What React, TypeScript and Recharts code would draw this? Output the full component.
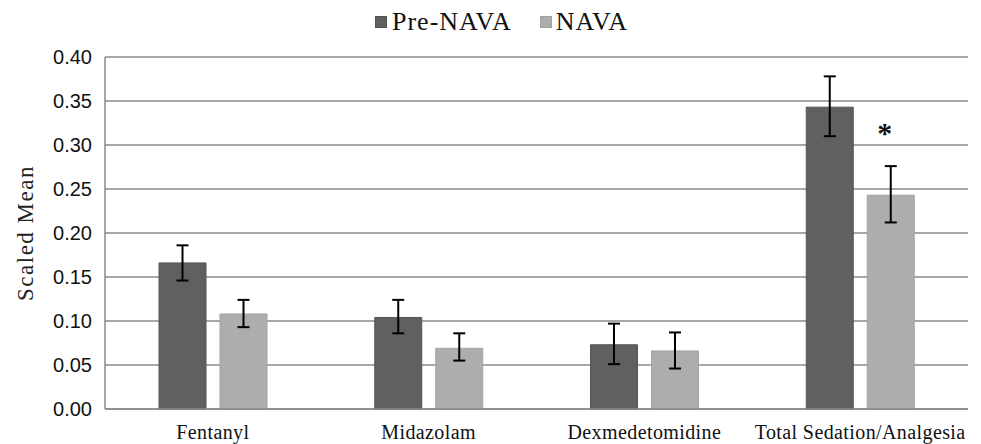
import React from 'react';
import { BarChart, Bar, XAxis, YAxis, CartesianGrid, ErrorBar, Legend, LabelList, Label } from 'recharts';

const categories = ['Fentanyl', 'Midazolam', 'Dexmedetomidine', 'Total Sedation/Analgesia'];
const preNava = [0.166, 0.104, 0.073, 0.343];
const preNavaLow = [0.146, 0.086, 0.051, 0.310];
const preNavaHigh = [0.186, 0.124, 0.097, 0.378];
const nava = [0.108, 0.069, 0.066, 0.243];
const navaLow = [0.093, 0.055, 0.046, 0.212];
const navaHigh = [0.124, 0.086, 0.087, 0.276];
const significance = ['', '', '', '*'];
const yTicks = [0, 0.05, 0.1, 0.15, 0.2, 0.25, 0.3, 0.35, 0.4];
const seriesNames = ['Pre-NAVA', 'NAVA'];

const DARK = '#606060';
const LIGHT = '#adadad';
const SERIF = '"Liberation Serif", "Times New Roman", serif';
const SANS = '"Liberation Sans", Arial, sans-serif';

const data = categories.map((name, i) => ({
  name,
  pre: preNava[i],
  preErr: [preNava[i] - preNavaLow[i], preNavaHigh[i] - preNava[i]],
  nava: nava[i],
  navaErr: [nava[i] - navaLow[i], navaHigh[i] - nava[i]],
  sig: significance[i],
}));

const LegendContent = () => (
  <div style={{ display: 'flex', alignItems: 'center', fontFamily: SERIF, fontSize: 26, lineHeight: '26px', letterSpacing: 1, color: '#111', whiteSpace: 'nowrap' }}>
    <span style={{ width: 12, height: 12, background: DARK, border: '1px solid #505050', marginRight: 5, boxSizing: 'border-box', display: 'inline-block' }} />
    <span style={{ marginRight: 28 }}>{seriesNames[0]}</span>
    <span style={{ width: 12, height: 12, background: LIGHT, border: '1px solid #a0a0a0', marginRight: 4, boxSizing: 'border-box', display: 'inline-block' }} />
    <span>{seriesNames[1]}</span>
  </div>
);

const renderSig = (props: any) => {
  const { x, y, width, value } = props;
  if (!value) return null;
  return (
    <text x={Number(x) + Number(width) / 2 - 6} y={Number(y) - 52} textAnchor="middle" fontSize={30} fontWeight="bold" fontFamily={SERIF} fill="#111">
      {value}
    </text>
  );
};

const YLabel = () => (
  <text x={25} y={233} transform="rotate(-90 25 233)" textAnchor="middle" dominantBaseline="central" fontFamily={SERIF} fontSize={23} letterSpacing={1.5} fill="#222">
    Scaled Mean
  </text>
);

export default function App() {
  return (
    <div style={{ position: 'absolute', left: 0, top: 0, width: 981, height: 444, background: '#fff' }}>
      <BarChart width={981} height={444} data={data} margin={{ top: 57, right: 13, bottom: 0, left: 0 }} barSize={47} barGap={14}>
        <CartesianGrid vertical={false} stroke="#8a8a8a" strokeWidth={1.5} />
        <XAxis
          dataKey="name"
          height={35}
          tickLine={false}
          axisLine={{ stroke: '#8a8a8a', strokeWidth: 1.5 }}
          tickMargin={10}
          interval={0}
          tick={{ fontFamily: SERIF, fontSize: 20, fill: '#111', letterSpacing: 0.4 }}
        />
        <YAxis
          width={105}
          domain={[0, 0.4]}
          ticks={yTicks}
          tickFormatter={(v: number) => v.toFixed(2)}
          tickLine={false}
          axisLine={{ stroke: '#8a8a8a', strokeWidth: 1.5 }}
          tickMargin={7}
          tick={{ fontFamily: SANS, fontSize: 20, fill: '#111' }}
        >
          <Label content={<YLabel />} />
        </YAxis>
        <Legend
          verticalAlign="middle"
          align="center"
          content={<LegendContent />}
          wrapperStyle={{ top: 9, left: 375, width: 'auto', height: 26 }}
        />
        <Bar dataKey="pre" name={seriesNames[0]} fill={DARK} stroke="#555" strokeWidth={1} isAnimationActive={false}>
          <ErrorBar dataKey="preErr" width={6} stroke="#000" strokeWidth={2} />
        </Bar>
        <Bar dataKey="nava" name={seriesNames[1]} fill={LIGHT} stroke="#a3a3a3" strokeWidth={1} isAnimationActive={false}>
          <ErrorBar dataKey="navaErr" width={6} stroke="#000" strokeWidth={2} />
          <LabelList dataKey="sig" content={renderSig} />
        </Bar>
      </BarChart>
    </div>
  );
}
